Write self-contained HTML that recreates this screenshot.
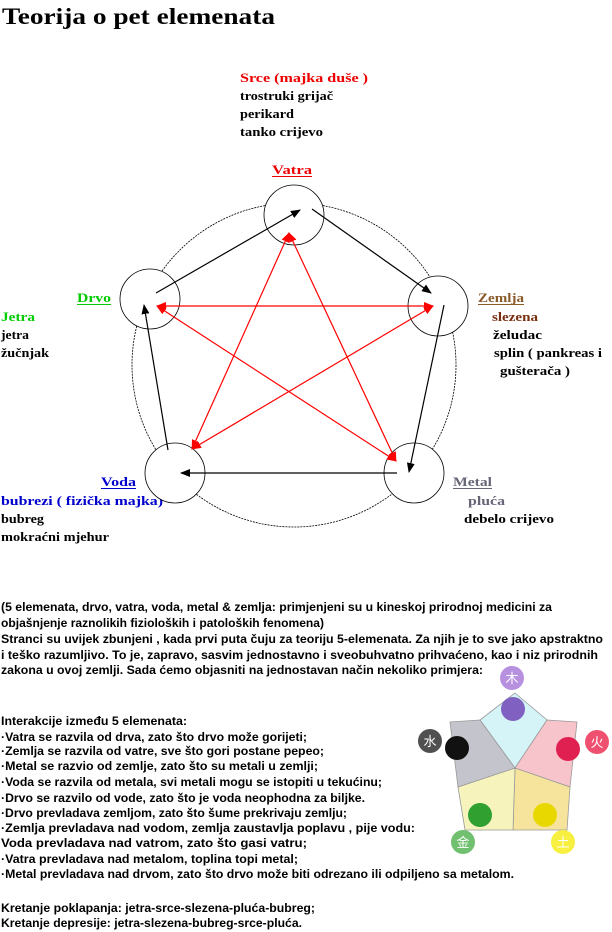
<!DOCTYPE html>
<html><head><meta charset="utf-8"><style>
html,body{margin:0;padding:0;background:#fff;width:612px;height:932px;overflow:hidden}
svg{display:block}
.s{font-family:"Liberation Serif",serif;font-weight:bold;font-size:13px}
.a{font-family:"Liberation Sans",sans-serif;font-weight:bold;font-size:12px}
</style></head><body>
<svg width="612" height="932" viewBox="0 0 612 932" xmlns="http://www.w3.org/2000/svg">
<defs>
<marker id="kb" markerWidth="10" markerHeight="8" refX="9" refY="4" orient="auto" markerUnits="userSpaceOnUse"><path d="M0,0 L10,4 L0,8 Z" fill="#000"/></marker>
<marker id="kr" markerWidth="10" markerHeight="8" refX="9" refY="4" orient="auto-start-reverse" markerUnits="userSpaceOnUse"><path d="M0,0 L10,4 L0,8 Z" fill="#f00"/></marker>
</defs>
<text x="2" y="24" font-family="Liberation Serif,serif" font-weight="bold" font-size="23" textLength="273" lengthAdjust="spacingAndGlyphs">Teorija o pet elemenata</text>

<g class="s">
<text x="240" y="82" fill="#e00" textLength="128" lengthAdjust="spacingAndGlyphs">Srce (majka duše )</text>
<text x="240" y="100" textLength="93" lengthAdjust="spacingAndGlyphs">trostruki grijač</text>
<text x="240" y="118" textLength="54" lengthAdjust="spacingAndGlyphs">perikard</text>
<text x="240" y="136" textLength="83" lengthAdjust="spacingAndGlyphs">tanko crijevo</text>
<text x="272" y="174" fill="#e00" textLength="40" lengthAdjust="spacingAndGlyphs">Vatra</text>
<line x1="272" y1="176.5" x2="312" y2="176.5" stroke="#e00"/>
<text x="77" y="302" fill="#0c0" textLength="34" lengthAdjust="spacingAndGlyphs">Drvo</text>
<line x1="77" y1="304.5" x2="111" y2="304.5" stroke="#0c0"/>
<text x="1" y="321" fill="#0c0" textLength="34" lengthAdjust="spacingAndGlyphs">Jetra</text>
<text x="1" y="339" textLength="28" lengthAdjust="spacingAndGlyphs">jetra</text>
<text x="1" y="357" textLength="48" lengthAdjust="spacingAndGlyphs">žučnjak</text>
<text x="478" y="302" fill="#8a5a28" textLength="46" lengthAdjust="spacingAndGlyphs">Zemlja</text>
<line x1="478" y1="304.5" x2="524" y2="304.5" stroke="#8a5a28"/>
<text x="492" y="321" fill="#7a3010" textLength="46" lengthAdjust="spacingAndGlyphs">slezena</text>
<text x="493" y="339" textLength="49" lengthAdjust="spacingAndGlyphs">želudac</text>
<text x="494" y="357" textLength="108" lengthAdjust="spacingAndGlyphs">splin ( pankreas i</text>
<text x="500" y="375" textLength="70" lengthAdjust="spacingAndGlyphs">gušterača )</text>
<text x="101" y="486" fill="#00c" textLength="35" lengthAdjust="spacingAndGlyphs">Voda</text>
<line x1="101" y1="488.5" x2="136" y2="488.5" stroke="#00c"/>
<text x="1" y="505" fill="#00c" textLength="162" lengthAdjust="spacingAndGlyphs">bubrezi ( fizička majka)</text>
<text x="1" y="523" textLength="43" lengthAdjust="spacingAndGlyphs">bubreg</text>
<text x="1" y="541" textLength="108" lengthAdjust="spacingAndGlyphs">mokraćni mjehur</text>
<text x="453" y="486" fill="#667" textLength="39" lengthAdjust="spacingAndGlyphs">Metal</text>
<line x1="453" y1="488.5" x2="492" y2="488.5" stroke="#667"/>
<text x="468" y="505" fill="#667" textLength="37" lengthAdjust="spacingAndGlyphs">pluća</text>
<text x="464" y="523" textLength="90" lengthAdjust="spacingAndGlyphs">debelo crijevo</text>
</g>

<g fill="none" stroke="#000" stroke-width="0.8">
<circle cx="294" cy="365" r="162" stroke-dasharray="2 1"/>
</g>
<g fill="#fff" stroke="#000" stroke-width="0.8">
<circle cx="294" cy="215" r="30"/>
<circle cx="150" cy="299" r="30"/>
<circle cx="438" cy="306" r="30"/>
<circle cx="175" cy="473" r="30"/>
<circle cx="414" cy="473" r="30"/>
</g>
<g stroke="#000" stroke-width="1.2" marker-end="url(#kb)">
<line x1="156" y1="293" x2="300" y2="210"/>
<line x1="312" y1="209" x2="431" y2="293"/>
<line x1="444" y1="305" x2="409" y2="472"/>
<line x1="397" y1="473" x2="181" y2="473"/>
<line x1="168" y1="450" x2="144" y2="305"/>
</g>
<g stroke="#f00" stroke-width="1.2" marker-start="url(#kr)" marker-end="url(#kr)">
<line x1="157" y1="306" x2="433" y2="306"/>
<line x1="289" y1="233" x2="192" y2="449"/>
<line x1="289" y1="233" x2="396" y2="461"/>
<line x1="433" y1="306" x2="192" y2="449"/>
<line x1="157" y1="306" x2="396" y2="461"/>
</g>

<g class="a">
<text x="1" y="611" textLength="551" lengthAdjust="spacingAndGlyphs">(5 elemenata, drvo, vatra, voda, metal &amp; zemlja: primjenjeni su u kineskoj prirodnoj medicini za</text>
<text x="1" y="627" textLength="323" lengthAdjust="spacingAndGlyphs">objašnjenje raznolikih fizioloških i patoloških fenomena)</text>
<text x="1" y="643" textLength="602" lengthAdjust="spacingAndGlyphs">Stranci su uvijek zbunjeni , kada prvi puta čuju za teoriju 5-elemenata. Za njih je to sve jako apstraktno</text>
<text x="1" y="659" textLength="597" lengthAdjust="spacingAndGlyphs">i teško razumljivo. To je, zapravo, sasvim jednostavno i sveobuhvatno prihvaćeno, kao i niz prirodnih</text>
<text x="1" y="674" textLength="482" lengthAdjust="spacingAndGlyphs">zakona u ovoj zemlji. Sada ćemo objasniti na jednostavan način nekoliko primjera:</text>

<text x="1" y="725" textLength="186" lengthAdjust="spacingAndGlyphs">Interakcije između 5 elemenata:</text>
<text x="1" y="741" textLength="306" lengthAdjust="spacingAndGlyphs">·Vatra se razvila od drva, zato što drvo može gorijeti;</text>
<text x="1" y="755" textLength="323" lengthAdjust="spacingAndGlyphs">·Zemlja se razvila od vatre, sve što gori postane pepeo;</text>
<text x="1" y="770" textLength="317" lengthAdjust="spacingAndGlyphs">·Metal se razvio od zemlje, zato što su metali u zemlji;</text>
<text x="1" y="786" textLength="381" lengthAdjust="spacingAndGlyphs">·Voda se razvila od metala, svi metali mogu se istopiti u tekućinu;</text>
<text x="1" y="802" textLength="364" lengthAdjust="spacingAndGlyphs">·Drvo se razvilo od vode, zato što je voda neophodna za biljke.</text>
<text x="1" y="817" textLength="346" lengthAdjust="spacingAndGlyphs">·Drvo prevladava  zemljom, zato što šume prekrivaju zemlju;</text>
<text x="1" y="832" textLength="414" lengthAdjust="spacingAndGlyphs">·Zemlja prevladava nad vodom, zemlja  zaustavlja  poplavu , pije vodu:</text>
<text x="1" y="847" textLength="306" lengthAdjust="spacingAndGlyphs">Voda prevladava nad vatrom, zato što gasi vatru;</text>
<text x="1" y="863" textLength="297" lengthAdjust="spacingAndGlyphs">·Vatra prevladava nad metalom,  toplina topi metal;</text>
<text x="1" y="878" textLength="513" lengthAdjust="spacingAndGlyphs">·Metal prevladava nad drvom, zato što drvo može biti odrezano ili odpiljeno sa metalom.</text>
<text x="1" y="912" textLength="314" lengthAdjust="spacingAndGlyphs">Kretanje poklapanja: jetra-srce-slezena-pluća-bubreg;</text>
<text x="1" y="927" textLength="301" lengthAdjust="spacingAndGlyphs">Kretanje depresije: jetra-slezena-bubreg-srce-pluća.</text>
</g>

<g stroke="#999" stroke-width="0.8">
<polygon points="515,693 547,720 515,768 480,720" fill="#d4f4f8"/>
<polygon points="547,720 577,722 570,787 515,768" fill="#f8c4cc"/>
<polygon points="570,787 567,830 513,830 515,768" fill="#f6e49c"/>
<polygon points="515,768 513,830 465,830 458,787" fill="#f6f4bc"/>
<polygon points="480,720 515,768 458,787 450,722" fill="#c4c4cc"/>
</g>
<g>
<circle cx="512" cy="678" r="12" fill="#b890e0"/><text x="512" y="683" font-size="13" fill="#fff" text-anchor="middle" font-family="Noto Sans CJK SC,sans-serif">木</text>
<circle cx="513" cy="709" r="12" fill="#8060c0"/>
<circle cx="430" cy="741" r="12" fill="#505050"/><text x="430" y="746" font-size="13" fill="#fff" text-anchor="middle" font-family="Noto Sans CJK SC,sans-serif">水</text>
<circle cx="457" cy="748" r="12" fill="#111"/>
<circle cx="597" cy="742" r="12" fill="#f05070"/><text x="597" y="747" font-size="13" fill="#fff" text-anchor="middle" font-family="Noto Sans CJK SC,sans-serif">火</text>
<circle cx="568" cy="749" r="12" fill="#e02050"/>
<circle cx="480" cy="815" r="12" fill="#30a030"/>
<circle cx="463" cy="842" r="12" fill="#70c070"/><text x="463" y="847" font-size="13" fill="#fff" text-anchor="middle" font-family="Noto Sans CJK SC,sans-serif">金</text>
<circle cx="545" cy="815" r="12" fill="#e8d800"/>
<circle cx="563" cy="842" r="12" fill="#f8f040"/><text x="563" y="847" font-size="13" fill="#fff" text-anchor="middle" font-family="Noto Sans CJK SC,sans-serif">土</text>
</g>
</svg>
</body></html>
